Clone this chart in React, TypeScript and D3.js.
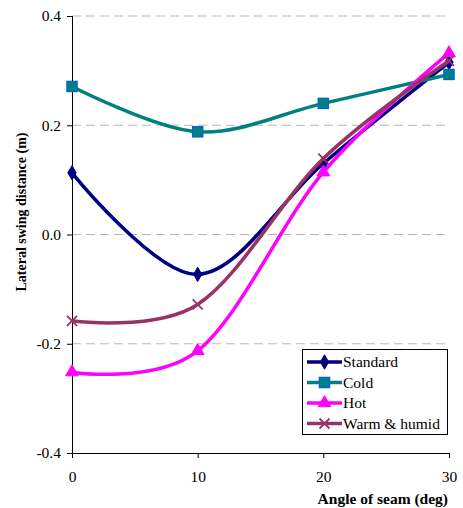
import React, { useEffect, useRef } from "react";
import * as d3 from "d3";

const angles = [0, 10, 20, 30];
const standard = [0.113, -0.073, 0.13, 0.315];
const cold = [0.271, 0.188, 0.24, 0.293];
const hot = [-0.252, -0.213, 0.114, 0.332];
const warm = [-0.158, -0.128, 0.139, 0.318];
const yTicks = [-0.4, -0.2, 0.0, 0.2, 0.4];
const xTicks = [0, 10, 20, 30];

const seriesList = [
  { name: "Standard", values: standard, color: "#000080", marker: "diamond" },
  { name: "Cold", values: cold, color: "#008080", marker: "square" },
  { name: "Hot", values: hot, color: "#FF00FF", marker: "triangle" },
  { name: "Warm & humid", values: warm, color: "#993366", marker: "cross" },
];

const FONT = "Liberation Serif, DejaVu Serif, Tinos, Times New Roman, serif";

const App = () => {
  const ref = useRef<SVGSVGElement>(null);

  useEffect(() => {
    const svg = d3.select(ref.current);
    svg.selectAll("*").remove();

    const x = d3.scaleLinear().domain([0, 30]).range([72, 449]);
    const y = d3.scaleLinear().domain([-0.4, 0.4]).range([453, 16]);

    // grid
    svg.append("g").selectAll("line").data(yTicks.filter(t => t > -0.4))
      .join("line")
      .attr("x1", 72).attr("x2", 449)
      .attr("y1", d => y(d)).attr("y2", d => y(d))
      .attr("stroke", "#b8b8b8").attr("stroke-width", 1.2)
      .attr("stroke-dasharray", "9,5");

    const yAxis = d3.axisLeft(y).tickValues(yTicks).tickSize(5).tickPadding(6)
      .tickFormat(d => d3.format(".1f")(d as number).replace("−", "-"));
    const gy = svg.append("g").attr("transform", `translate(72,0)`).call(yAxis);
    const xAxis = d3.axisBottom(x).tickValues(xTicks).tickSize(5).tickPadding(13).tickFormat(d3.format("d"));
    const gx = svg.append("g").attr("transform", `translate(0,453)`).call(xAxis);
    [gx, gy].forEach(g => {
      g.attr("font-family", FONT).attr("font-size", 15.5);
      g.select(".domain").attr("stroke", "#000").attr("stroke-width", 1);
      g.selectAll(".tick line").attr("stroke", "#000");
      g.selectAll(".tick text").attr("fill", "#000");
    });
    gx.select(".domain").attr("d", "M72,0.5H449");
    gy.select(".domain").attr("d", "M0.5,16V453");

    const line = d3.line<number>()
      .x((_, i) => x(angles[i]))
      .y(d => y(d))
      .curve(d3.curveCatmullRom.alpha(0));

    const drawMarker = (g: any, kind: string, color: string, cx: number, cy: number) => {
      if (kind === "diamond") {
        g.append("path").attr("d", d3.symbol(d3.symbolDiamond, 60)())
          .attr("transform", `translate(${cx},${cy})`).attr("fill", color).attr("stroke", color);
      } else if (kind === "square") {
        g.append("rect").attr("x", cx - 5).attr("y", cy - 5).attr("width", 10).attr("height", 10)
          .attr("fill", color).attr("stroke", "#0066CC").attr("stroke-width", 1.5);
      } else if (kind === "triangle") {
        g.append("path").attr("d", d3.symbol(d3.symbolTriangle, 70)())
          .attr("transform", `translate(${cx},${cy})`).attr("fill", color).attr("stroke", color);
      } else {
        g.append("path").attr("d", `M${cx - 5},${cy - 5}L${cx + 5},${cy + 5}M${cx - 5},${cy + 5}L${cx + 5},${cy - 5}`)
          .attr("stroke", color).attr("stroke-width", 1.8).attr("fill", "none");
      }
    };

    seriesList.forEach(s => {
      const g = svg.append("g");
      g.append("path").attr("d", line(s.values)).attr("fill", "none")
        .attr("stroke", s.color).attr("stroke-width", 3.5);
      s.values.forEach((v, i) => drawMarker(g, s.marker, s.color, x(angles[i]), y(v)));
    });

    // legend
    const lg = svg.append("g");
    lg.append("rect").attr("x", 302.5).attr("y", 349.5).attr("width", 145).attr("height", 85)
      .attr("fill", "#fff").attr("stroke", "#000").attr("stroke-width", 1);
    seriesList.forEach((s, i) => {
      const cy = 362 + i * 20.5;
      lg.append("line").attr("x1", 307).attr("x2", 342).attr("y1", cy).attr("y2", cy)
        .attr("stroke", s.color).attr("stroke-width", 3.5);
      drawMarker(lg, s.marker, s.color, 324.5, cy);
      lg.append("text").attr("x", 343).attr("y", cy + 5).text(s.name)
        .attr("font-family", FONT).attr("font-size", 15.5).attr("fill", "#000");
    });

    svg.append("text").attr("x", 448).attr("y", 504).attr("text-anchor", "end")
      .attr("font-family", FONT).attr("font-size", 15.5).attr("font-weight", "bold")
      .text("Angle of seam (deg)");
    svg.append("text").attr("transform", "translate(26,212) rotate(-90)").attr("text-anchor", "middle")
      .attr("font-family", FONT).attr("font-size", 14).attr("font-weight", "bold")
      .text("Lateral swing distance (m)");
  }, []);

  return (
    <svg ref={ref} width={463} height={508}
      style={{ position: "absolute", left: 0, top: 0, background: "#fff" }} />
  );
};

export default App;
